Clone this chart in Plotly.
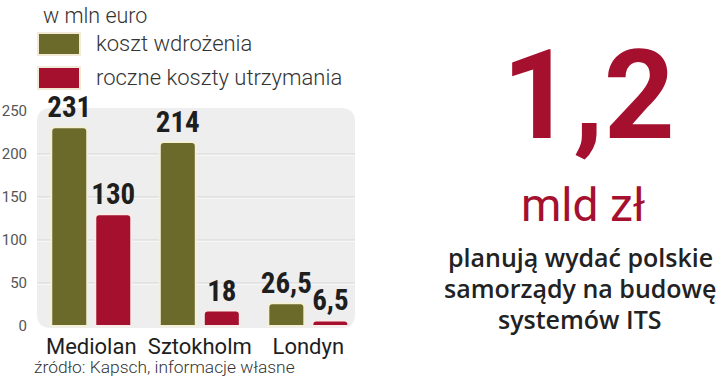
import plotly.graph_objects as go

# ---- data ----
cities = ["Mediolan", "Sztokholm", "Londyn"]
koszt_wdrozenia = [231, 214, 26.5]
roczne_koszty = [130, 18, 6.5]
series_names = ["koszt wdrożenia", "roczne koszty utrzymania"]
y_ticks = [0, 50, 100, 150, 200, 250]
unit_label = "w mln euro"
source_label = "źródło: Kapsch, informacje własne"
big_number = "1,2"
big_unit = "mld zł"
big_caption = ["planują wydać polskie", "samorządy na budowę", "systemów ITS"]

GREEN = "#6b6a2a"
RED = "#a5102f"
DARK = "#1e1e1e"

def fmt(v):
    return f"{v:g}".replace(".", ",")

fig = go.Figure()
for vals, col, line_col, name in [
    (koszt_wdrozenia, GREEN, "#f4f0d8", series_names[0]),
    (roczne_koszty, RED, "#f7ece8", series_names[1]),
]:
    fig.add_trace(go.Bar(
        x=cities, y=vals, name=name,
        marker=dict(color=col, line=dict(color=line_col, width=2), cornerradius=4),
        text=[fmt(v) for v in vals], textposition="outside", constraintext="none",
        textfont=dict(family="Liberation Sans Narrow, Roboto Condensed, Roboto", size=29,
                      color=DARK, weight="bold"),
        cliponaxis=False, showlegend=False,
    ))

W, H = 720, 379
L, R, T, B = 37, 355, 108, 328
fig.update_layout(
    width=W, height=H,
    margin=dict(l=L, r=W - R, t=T, b=H - B, pad=0, autoexpand=False),
    paper_bgcolor="white", plot_bgcolor="rgba(0,0,0,0)",
    barmode="group", bargap=0.189, bargroupgap=0.182,
    xaxis=dict(range=[-0.5, 2.43], showgrid=False, zeroline=False, showline=False,
               automargin=False,
               ticks="", tickfont=dict(family="Roboto", size=22, color=DARK),
               ticklabelstandoff=3),
    yaxis=dict(range=[-2.3, 253.5], showgrid=False, zeroline=False, showline=False,
               automargin=False,
               tickvals=y_ticks, ticks="", ticklabelstandoff=9,
               tickfont=dict(family="Roboto", size=15, color="#555")),
    showlegend=False,
)

# rounded panel
rx, ry = 14 / (R - L), 14 / (B - T)
path = (f"M {rx},0 L {1-rx},0 Q 1,0 1,{ry} L 1,{1-ry} Q 1,1 {1-rx},1 "
        f"L {rx},1 Q 0,1 0,{1-ry} L 0,{ry} Q 0,0 {rx},0 Z")
fig.add_shape(type="path", path=path, xref="paper", yref="paper",
              fillcolor="#eeeeee", line=dict(width=0), layer="below")
# gridlines (grey line with a white highlight underneath)
for t in y_ticks[1:-1]:
    fig.add_shape(type="line", xref="paper", yref="y", x0=0, x1=1, y0=t - 1.2, y1=t - 1.2,
                  line=dict(color="white", width=1), layer="below")
    fig.add_shape(type="line", xref="paper", yref="y", x0=0, x1=1, y0=t, y1=t,
                  line=dict(color="#d6d6d6", width=1), layer="below")

def px(x):
    return (x - L) / (R - L)

def py(y):
    return (B - y) / (B - T)

# legend (custom)
fig.add_annotation(text=unit_label, xref="paper", yref="paper", x=px(41), y=py(15),
                   xanchor="left", yanchor="middle", showarrow=False,
                   font=dict(family="Roboto", size=21.5, color="#333", weight=300))
for i, (col, name) in enumerate(zip([GREEN, RED], series_names)):
    y0 = 33 + i * 34
    fig.add_shape(type="rect", xref="paper", yref="paper",
                  x0=px(38), x1=px(80), y0=py(y0), y1=py(y0 + 22),
                  fillcolor=col, line=dict(color="#f1ead6", width=2))
    fig.add_annotation(text=name, xref="paper", yref="paper", x=px(94), y=py(y0 + 11),
                       xanchor="left", yanchor="middle", showarrow=False,
                       font=dict(family="Roboto", size=22, color="#333", weight=300))

# source
fig.add_annotation(text=source_label, xref="paper", yref="paper", x=px(32), y=py(367),
                   xanchor="left", yanchor="middle", showarrow=False,
                   font=dict(family="Roboto", size=17.4, color="#333", weight=300))

# right side
fig.add_annotation(text=big_number, xref="paper", yref="paper", x=px(588), y=py(95),
                   xanchor="center", yanchor="middle", showarrow=False,
                   font=dict(family="Roboto", size=124, color=RED, weight="bold"))
fig.add_annotation(text=big_unit, xref="paper", yref="paper", x=px(583), y=py(205),
                   xanchor="center", yanchor="middle", showarrow=False,
                   font=dict(family="Roboto", size=46, color=RED))
for i, line in enumerate(big_caption):
    fig.add_annotation(text=line, xref="paper", yref="paper", x=px(580), y=py(257 + i * 31),
                       xanchor="center", yanchor="middle", showarrow=False,
                       font=dict(family="Open Sans", size=25, color="#222", weight=600))

fig.write_html("out.html", post_script="document.body.style.margin='0';",
               config={"displayModeBar": False})
